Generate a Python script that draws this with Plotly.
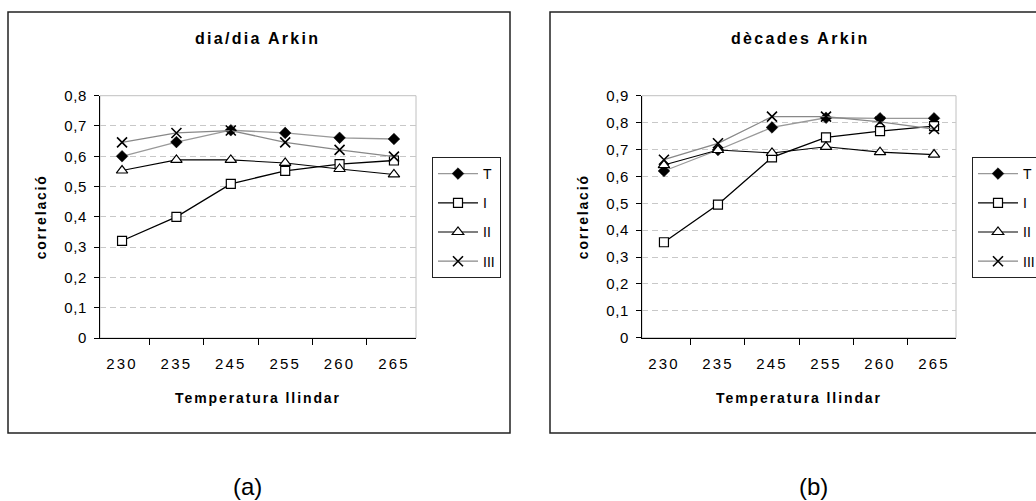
import plotly.graph_objects as go

# ---------------- data ----------------
categories = ["230", "235", "245", "255", "260", "265"]
series_names = ["T", "I", "II", "III"]

dia_T = [0.600, 0.647, 0.686, 0.677, 0.661, 0.657]
dia_I = [0.321, 0.400, 0.509, 0.552, 0.574, 0.586]
dia_II = [0.553, 0.588, 0.588, 0.578, 0.558, 0.540]
dia_III = [0.646, 0.677, 0.685, 0.646, 0.621, 0.599]

dec_T = [0.620, 0.698, 0.782, 0.818, 0.816, 0.816]
dec_I = [0.355, 0.495, 0.671, 0.745, 0.768, 0.787]
dec_II = [0.642, 0.698, 0.687, 0.710, 0.690, 0.681]
dec_III = [0.662, 0.723, 0.822, 0.822, 0.803, 0.776]

y_ticks_a = [0, 0.1, 0.2, 0.3, 0.4, 0.5, 0.6, 0.7, 0.8]
y_labels_a = ["0", "0,1", "0,2", "0,3", "0,4", "0,5", "0,6", "0,7", "0,8"]
y_ticks_b = [0, 0.1, 0.2, 0.3, 0.4, 0.5, 0.6, 0.7, 0.8, 0.9]
y_labels_b = ["0", "0,1", "0,2", "0,3", "0,4", "0,5", "0,6", "0,7", "0,8", "0,9"]

title_a = "dia/dia Arkin"
title_b = "dècades Arkin"
x_title = "Temperatura llindar"
y_title = "correlació"
panel_labels = ["(a)", "(b)"]

W, H = 1036, 501
FONT = "Arial, Liberation Sans, sans-serif"


def sp(text, px):
    return f'<span style="letter-spacing:{px}px">{text}</span>'


styles = {
    "T": dict(line=dict(color="#999999", width=1.3),
              marker=dict(symbol="diamond", size=9, color="black",
                          line=dict(color="black", width=0.5))),
    "I": dict(line=dict(color="black", width=1.3),
              marker=dict(symbol="square", size=9, color="white",
                          line=dict(color="black", width=1.2))),
    "II": dict(line=dict(color="black", width=1.1),
               marker=dict(symbol="triangle-up", size=10, color="white",
                           line=dict(color="black", width=1.2))),
    "III": dict(line=dict(color="#888888", width=1.3),
                marker=dict(symbol="x-thin-open", size=10, color="black",
                            line=dict(color="black", width=1.6))),
}

fig = go.Figure()

panels = [
    ("x", "y", "legend", [dia_T, dia_I, dia_II, dia_III]),
    ("x2", "y2", "legend2", [dec_T, dec_I, dec_II, dec_III]),
]
for xa, ya, leg, vals in panels:
    for name, v in zip(series_names, vals):
        st = styles[name]
        fig.add_trace(go.Scatter(
            x=categories, y=v, name=name, mode="lines+markers",
            xaxis=xa, yaxis=ya, legend=leg, legendgroup=name + leg,
            line=st["line"], marker=st["marker"], showlegend=True,
        ))


def px_x(p):
    return p / W


def px_y(p):
    return 1 - p / H


axis_common_x = dict(
    type="category", showgrid=False, zeroline=False,
    showline=True, linecolor="black", linewidth=1.3,
    ticks="outside", ticklen=6, tickcolor="black", tickwidth=1.2,
    tickson="boundaries", tickfont=dict(family=FONT, size=15, color="black"),
    tickvals=categories, ticktext=[sp(c, 2.2) for c in categories],
    title=dict(text=sp(x_title, 1.9), font=dict(family=FONT, size=14, color="black", weight="bold"),
               standoff=22),
    ticklabelstandoff=12,
    fixedrange=True,
)
axis_common_y = dict(
    showgrid=True, gridcolor="#c8c8c8", griddash="6px,4px", gridwidth=1,
    zeroline=False, showline=True, linecolor="black", linewidth=1.3,
    ticks="outside", ticklen=5, tickcolor="black", tickwidth=1.2,
    tickfont=dict(family=FONT, size=15, color="black"),
    title=dict(text=sp(y_title, 1.8), font=dict(family=FONT, size=14, color="black", weight="bold"),
               standoff=14),
    ticklabelstandoff=4,
    fixedrange=True,
)

legend_common = dict(
    bordercolor="#222222", borderwidth=1, bgcolor="white",
    font=dict(family=FONT, size=14, color="black"),
    traceorder="grouped", tracegroupgap=8, itemwidth=40,
    xanchor="left", yanchor="top",
)

fig.update_layout(
    width=W, height=H,
    margin=dict(l=0, r=0, t=0, b=0, autoexpand=False),
    paper_bgcolor="white", plot_bgcolor="white",
    font=dict(family=FONT, size=14, color="black"),
    xaxis=dict(domain=[px_x(100), px_x(416)], anchor="y", **axis_common_x),
    yaxis=dict(domain=[px_y(338), px_y(95.7)], anchor="x", range=[0, 0.8],
               tickvals=y_ticks_a, ticktext=[sp(t, 0.6) for t in y_labels_a], **axis_common_y),
    xaxis2=dict(domain=[px_x(642), px_x(956)], anchor="y2", **axis_common_x),
    yaxis2=dict(domain=[px_y(337.7), px_y(95.7)], anchor="x2", range=[0, 0.9],
                tickvals=y_ticks_b, ticktext=[sp(t, 0.6) for t in y_labels_b], **axis_common_y),
    legend=dict(x=px_x(432), y=px_y(157), **legend_common),
    legend2=dict(x=px_x(972), y=px_y(157), **legend_common),
)

# plot-area border (light gray on top/right) and outer frames
shapes = []
for xr, yr in [("x domain", "y domain"), ("x2 domain", "y2 domain")]:
    shapes.append(dict(type="rect", xref=xr, yref=yr, x0=0, x1=1, y0=0, y1=1,
                       line=dict(color="#c0c0c0", width=1), layer="below"))
shapes.append(dict(type="rect", xref="paper", yref="paper",
                   x0=px_x(8), x1=px_x(510), y0=px_y(433), y1=px_y(12),
                   line=dict(color="#222222", width=1.5)))
shapes.append(dict(type="rect", xref="paper", yref="paper",
                   x0=px_x(550), x1=px_x(1045), y0=px_y(433), y1=px_y(12),
                   line=dict(color="#222222", width=1.5)))
fig.update_layout(shapes=shapes)

annotations = [
    dict(text=sp(title_a, 2.3), x=px_x(257), y=px_y(38), xref="paper", yref="paper",
         showarrow=False, xanchor="center", yanchor="middle",
         font=dict(family=FONT, size=16, color="black", weight="bold")),
    dict(text=sp(title_b, 2.3), x=px_x(800), y=px_y(38), xref="paper", yref="paper",
         showarrow=False, xanchor="center", yanchor="middle",
         font=dict(family=FONT, size=16, color="black", weight="bold")),
    dict(text=panel_labels[0], x=px_x(247), y=px_y(486), xref="paper", yref="paper",
         showarrow=False, xanchor="center", yanchor="middle",
         font=dict(family=FONT, size=24, color="black")),
    dict(text=panel_labels[1], x=px_x(813), y=px_y(486), xref="paper", yref="paper",
         showarrow=False, xanchor="center", yanchor="middle",
         font=dict(family=FONT, size=24, color="black")),
]
fig.update_layout(annotations=annotations)

fig.write_html("out.html", config={"displayModeBar": False})
